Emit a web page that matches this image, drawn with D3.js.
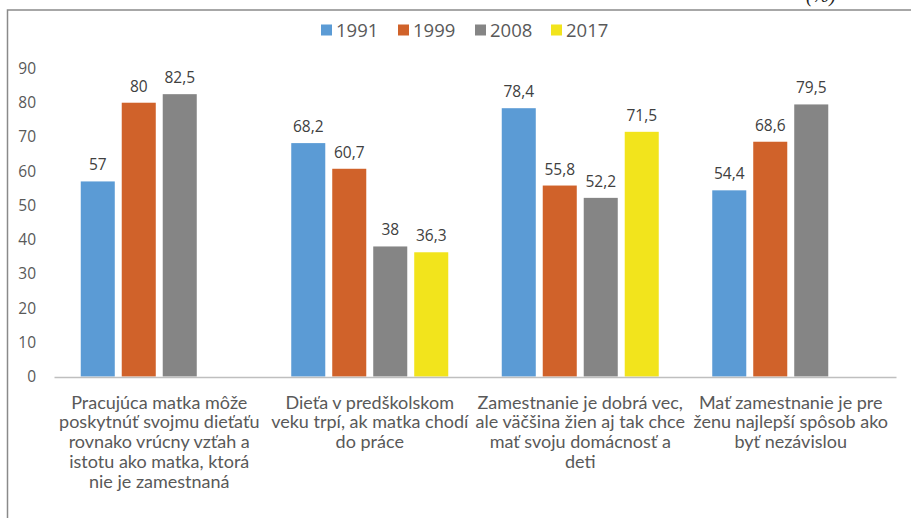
<!DOCTYPE html>
<html>
<head>
<meta charset="utf-8">
<script src="https://cdn.jsdelivr.net/npm/d3@7"></script>
<style>
  html, body { margin: 0; padding: 0; background: #fff; }
  svg { display: block; }
</style>
</head>
<body>
<svg id="chart" width="911" height="518"></svg>
<script>
// ---- data ----
const categories = [
  "Pracujúca matka môže poskytnúť svojmu dieťaťu rovnako vrúcny vzťah a istotu ako matka, ktorá nie je zamestnaná",
  "Dieťa v predškolskom veku trpí, ak matka chodí do práce",
  "Zamestnanie je dobrá vec, ale väčšina žien aj tak chce mať svoju domácnosť a deti",
  "Mať zamestnanie je pre ženu najlepší spôsob ako byť nezávislou"
];
const categoryLines = [
  ["Pracujúca matka môže", "poskytnúť svojmu dieťaťu", "rovnako vrúcny vzťah a", "istotu ako matka, ktorá", "nie je zamestnaná"],
  ["Dieťa v predškolskom", "veku trpí, ak matka chodí", "do práce"],
  ["Zamestnanie je dobrá vec,", "ale väčšina žien aj tak chce", "mať svoju domácnosť a", "deti"],
  ["Mať zamestnanie je pre", "ženu najlepší spôsob ako", "byť nezávislou"]
];
const seriesNames = ["1991", "1999", "2008", "2017"];
const values1991 = [57, 68.2, 78.4, 54.4];
const values1999 = [80, 60.7, 55.8, 68.6];
const values2008 = [82.5, 38, 52.2, 79.5];
const values2017 = [null, 36.3, 71.5, null];
const yTicks = [0, 10, 20, 30, 40, 50, 60, 70, 80, 90];
const colors = ["#5B9BD5", "#D0622A", "#858585", "#F2E41C"];

const seriesValues = [values1991, values1999, values2008, values2017];

// ---- layout ----
const svg = d3.select("#chart");
const font = "'Open Sans', 'Noto Sans', sans-serif";
const labelFont = "Lato, 'Open Sans', sans-serif";

// outer frame (cut off at right/bottom)
svg.append("rect")
  .attr("x", 7.5).attr("y", 10)
  .attr("width", 920).attr("height", 530)
  .attr("fill", "none").attr("stroke", "#8a8a8a").attr("stroke-width", 1.5);

// clipped title fragment at the very top
svg.append("text")
  .attr("x", 806).attr("y", 2)
  .attr("font-family", "'Liberation Serif', serif")
  .attr("font-style", "italic")
  .attr("font-size", 20)
  .attr("fill", "#222")
  .text("(%)");

const x0 = d3.scaleBand().domain(d3.range(categories.length)).range([54, 896]).padding(0);
const x1 = d3.scaleBand().domain(d3.range(seriesNames.length))
  .range([26.75, x0.bandwidth() - 26.75]).paddingInner(0.17).paddingOuter(0);
const y = d3.scaleLinear().domain([0, 90]).range([376.5, 68.5]);

// y axis tick labels
const yAxis = d3.axisLeft(y).tickValues(yTicks).tickSize(0).tickPadding(0).tickFormat(d3.format("d"));
const yg = svg.append("g").attr("transform", "translate(36,0)").call(yAxis);
yg.select(".domain").remove();
yg.selectAll("text")
  .attr("font-family", font).attr("font-size", 15.5).attr("fill", "#595959");

// bars
const fmt = v => String(v).replace(".", ",");
seriesValues.forEach((vals, si) => {
  const g = svg.append("g");
  const data = vals.map((v, ci) => ({ v, ci })).filter(d => d.v !== null);
  g.selectAll("rect").data(data).join("rect")
    .attr("x", d => x0(d.ci) + x1(si))
    .attr("y", d => y(d.v))
    .attr("width", x1.bandwidth())
    .attr("height", d => y(0) - y(d.v))
    .attr("fill", colors[si]);
  g.selectAll("text").data(data).join("text")
    .attr("x", d => x0(d.ci) + x1(si) + x1.bandwidth() / 2)
    .attr("y", d => y(d.v) - 11)
    .attr("text-anchor", "middle")
    .attr("font-family", font).attr("font-size", 15.5).attr("fill", "#404040")
    .text(d => fmt(d.v));
});

// x axis baseline
const xAxis = d3.axisBottom(x0).tickSize(0).tickFormat("");
const xg = svg.append("g").attr("transform", `translate(0,${y(0) + 0.5})`).call(xAxis);
xg.select(".domain").attr("stroke", "#BFBFBF").attr("stroke-width", 1.5);

// category labels
categoryLines.forEach((lines, ci) => {
  const t = svg.append("text")
    .attr("text-anchor", "middle")
    .attr("font-family", labelFont).attr("font-size", 18).attr("fill", "#595959");
  lines.forEach((ln, li) => {
    t.append("tspan")
      .attr("x", x0(ci) + x0.bandwidth() / 2)
      .attr("y", 408.5 + li * 19.8)
      .text(ln);
  });
});

// legend
const legendX = [321, 398, 475, 551];
const lg = svg.append("g");
seriesNames.forEach((name, i) => {
  lg.append("rect")
    .attr("x", legendX[i]).attr("y", 24.5)
    .attr("width", 11).attr("height", 11)
    .attr("fill", colors[i]);
  lg.append("text")
    .attr("x", legendX[i] + 15).attr("y", 37)
    .attr("font-family", font).attr("font-size", 18.5).attr("fill", "#595959")
    .text(name);
});
</script>
</body>
</html>
